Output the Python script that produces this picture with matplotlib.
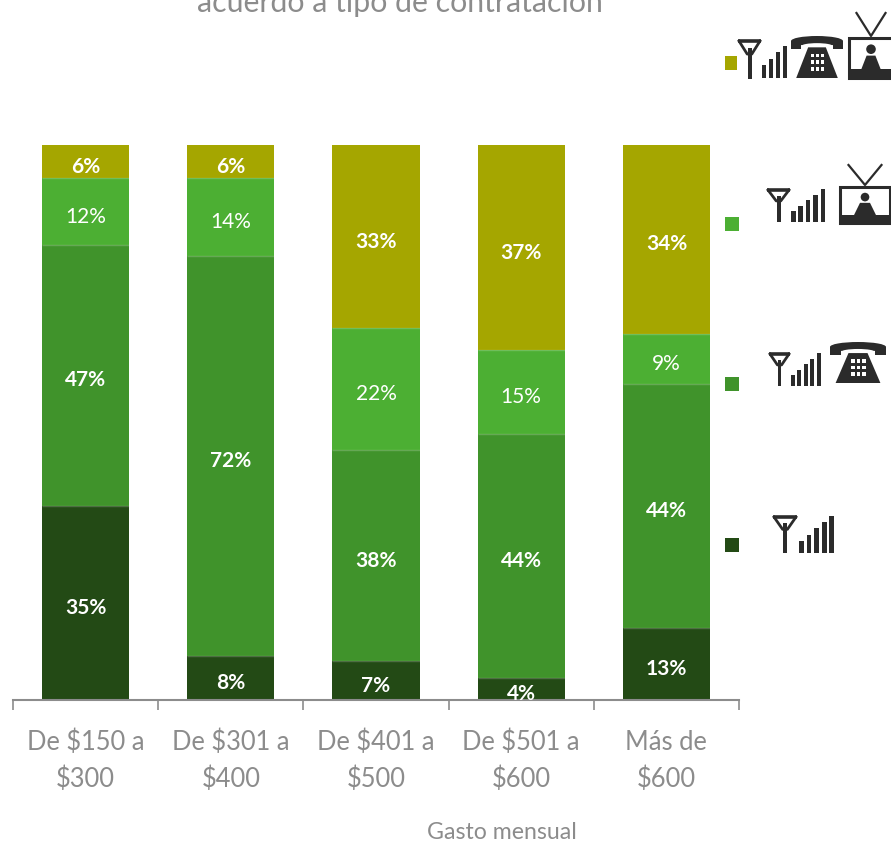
import numpy as np
import matplotlib
matplotlib.use("Agg")
import matplotlib.pyplot as plt
from matplotlib.patches import Rectangle, Polygon, Ellipse, Circle

plt.rcParams['font.family'] = ['Lato', 'DejaVu Sans']

# data
categories = ["De \\$150 a\n\\$300", "De \\$301 a\n\\$400", "De \\$401 a\n\\$500", "De \\$501 a\n\\$600", "Más de\n\\$600"]
movil = [35, 8, 7, 4, 13]
movil_tel = [47, 72, 38, 44, 44]
movil_tv = [12, 14, 22, 15, 9]
triple = [6, 6, 33, 37, 34]
series = [movil, movil_tel, movil_tv, triple]
colors = ["#234a15", "#40932b", "#4caf33", "#a5a600"]
W, H = 891, 842
GREY = "#8c8c8c"
DARK = "#2b2b2b"

fig = plt.figure(figsize=(W / 100, H / 100), dpi=100)
ax = fig.add_axes([13 / W, 1 - 700 / H, (739 - 13) / W, (700 - 145) / H])

x = np.arange(len(categories))
bottom = np.zeros(len(categories))
for vals, col in zip(series, colors):
    vals = np.array(vals)
    ax.bar(x, vals, width=0.6, bottom=bottom, color=col, edgecolor="none", zorder=2)
    for xi, b, v in zip(x, bottom, vals):
        ax.annotate(f"{v}%", (xi, b + v / 2), xytext=(0, -3.6), textcoords="offset points",
                    color="white", ha="center", va="center", fontsize=15,
                    fontweight="bold" if col != colors[2] else "normal", zorder=3)
        # thin light line between the segments
        if b > 0:
            ax.hlines(b, xi - 0.3, xi + 0.3, color="white", alpha=0.2, lw=1, zorder=2.5)
    bottom = bottom + vals

ax.set_xlim(-0.5, 4.5)
ax.set_ylim(0, 100)
ax.set_yticks([])
for s in ["top", "left", "right"]:
    ax.spines[s].set_visible(False)
ax.spines["bottom"].set_color(GREY)
ax.spines["bottom"].set_linewidth(1.5)
ax.set_xticks(np.arange(-0.5, 5, 1))
ax.set_xticklabels([])
ax.tick_params(axis="x", length=7.5, width=1.2, color=GREY)
ax.set_xticks(x, minor=True)
ax.set_xticklabels(categories, minor=True, fontsize=18.4, color=GREY, linespacing=1.55)
ax.tick_params(axis="x", which="minor", length=0, pad=21.5)

# overlay in pixel coordinates for title, legend and icons
ov = fig.add_axes([0, 0, 1, 1], facecolor="none")
ov.set_xlim(0, W)
ov.set_ylim(H, 0)
ov.axis("off")

ov.text(400, 3, "acuerdo a tipo de contratación", color=GREY, fontsize=21.8, ha="center", va="center")
ov.text(502, 832.5, "Gasto mensual", color=GREY, fontsize=16.7, ha="center", va="center")


def antenna(x0, x1, y0, y1):
    w = x1 - x0
    h = y1 - y0
    lw = 2.6
    ov.plot([x0, x1], [y0 + 1, y0 + 1], color=DARK, lw=lw, solid_capstyle="butt")
    ov.plot([x0 + 1, x0 + w * 0.4, x0 + w * 0.6, x1 - 1], [y0 + 1, y0 + h * 0.36, y0 + h * 0.36, y0 + 1],
            color=DARK, lw=lw - 0.6)
    ov.add_patch(Rectangle((x0 + w * 0.42, y0 + h * 0.2), w * 0.17, h * 0.8, color=DARK, lw=0))


def signal(x0, x1, y0, y1, n=4):
    step = (x1 - x0) / n
    for i in range(n):
        top = y1 - (y1 - y0) * (i + 2) / (n + 1)
        ov.add_patch(Rectangle((x0 + i * step, top), step * 0.62, y1 - top, color=DARK, lw=0))


def phone(x0, x1, y0, y1):
    w = x1 - x0
    h = y1 - y0
    ov.add_patch(Ellipse((x0 + w / 2, y0 + h * 0.12), w, h * 0.24, color=DARK, lw=0))
    ov.add_patch(Rectangle((x0, y0 + h * 0.12), w * 0.2, h * 0.2, color=DARK, lw=0))
    ov.add_patch(Rectangle((x1 - w * 0.2, y0 + h * 0.12), w * 0.2, h * 0.2, color=DARK, lw=0))
    ov.add_patch(Ellipse((x0 + w / 2, y0 + h * 0.24), w * 0.6, h * 0.14, color="white", lw=0))
    ov.add_patch(Polygon([(x0 + w * 0.33, y0 + h * 0.27), (x0 + w * 0.67, y0 + h * 0.27),
                          (x0 + w * 0.9, y1), (x0 + w * 0.1, y1)], color=DARK, lw=0))
    for i in range(3):
        for j in range(3):
            ov.add_patch(Rectangle((x0 + w * (0.38 + 0.1 * i), y0 + h * (0.42 + 0.16 * j)),
                                   w * 0.06, h * 0.09, color="white", lw=0))


def tv(x0, x1, y0, y1, vtop):
    w = x1 - x0
    h = y1 - y0
    mid = x0 + w / 2
    ov.plot([mid - w * 0.33, mid, mid + w * 0.33], [vtop, y0 - 2, vtop], color=DARK, lw=1.6)
    ov.add_patch(Rectangle((x0, y0), w, h, facecolor="white", edgecolor=DARK, lw=2.2))
    ov.add_patch(Rectangle((x0, y1 - h * 0.22), w, h * 0.22, color=DARK, lw=0))
    ov.add_patch(Circle((mid, y0 + h * 0.28), h * 0.12, color=DARK, lw=0))
    ov.add_patch(Polygon([(mid - w * 0.22, y1 - h * 0.22), (mid - w * 0.1, y0 + h * 0.44),
                          (mid + w * 0.1, y0 + h * 0.44), (mid + w * 0.22, y1 - h * 0.22)], color=DARK, lw=0))


# legend squares, top to bottom
ov.add_patch(Rectangle((725, 56), 12, 14, color=colors[3], lw=0))
ov.add_patch(Rectangle((725, 217), 14, 14, color=colors[2], lw=0))
ov.add_patch(Rectangle((725, 377), 14, 14, color=colors[1], lw=0))
ov.add_patch(Rectangle((725, 538), 14, 14, color=colors[0], lw=0))

antenna(738, 761, 40, 79)
signal(762, 790, 46, 78)
phone(791, 843, 36, 78)
tv(849, 893, 38, 78, 13)

antenna(767, 790, 189, 222)
signal(791, 828, 189, 222, 5)
tv(840, 890, 187, 223, 165)

antenna(769, 790, 353, 386)
signal(791, 823, 353, 386, 5)
phone(830, 886, 342, 383)

antenna(773, 797, 516, 553)
signal(799, 837, 516, 553, 5)

fig.savefig("out.png", dpi=100, facecolor="white")
